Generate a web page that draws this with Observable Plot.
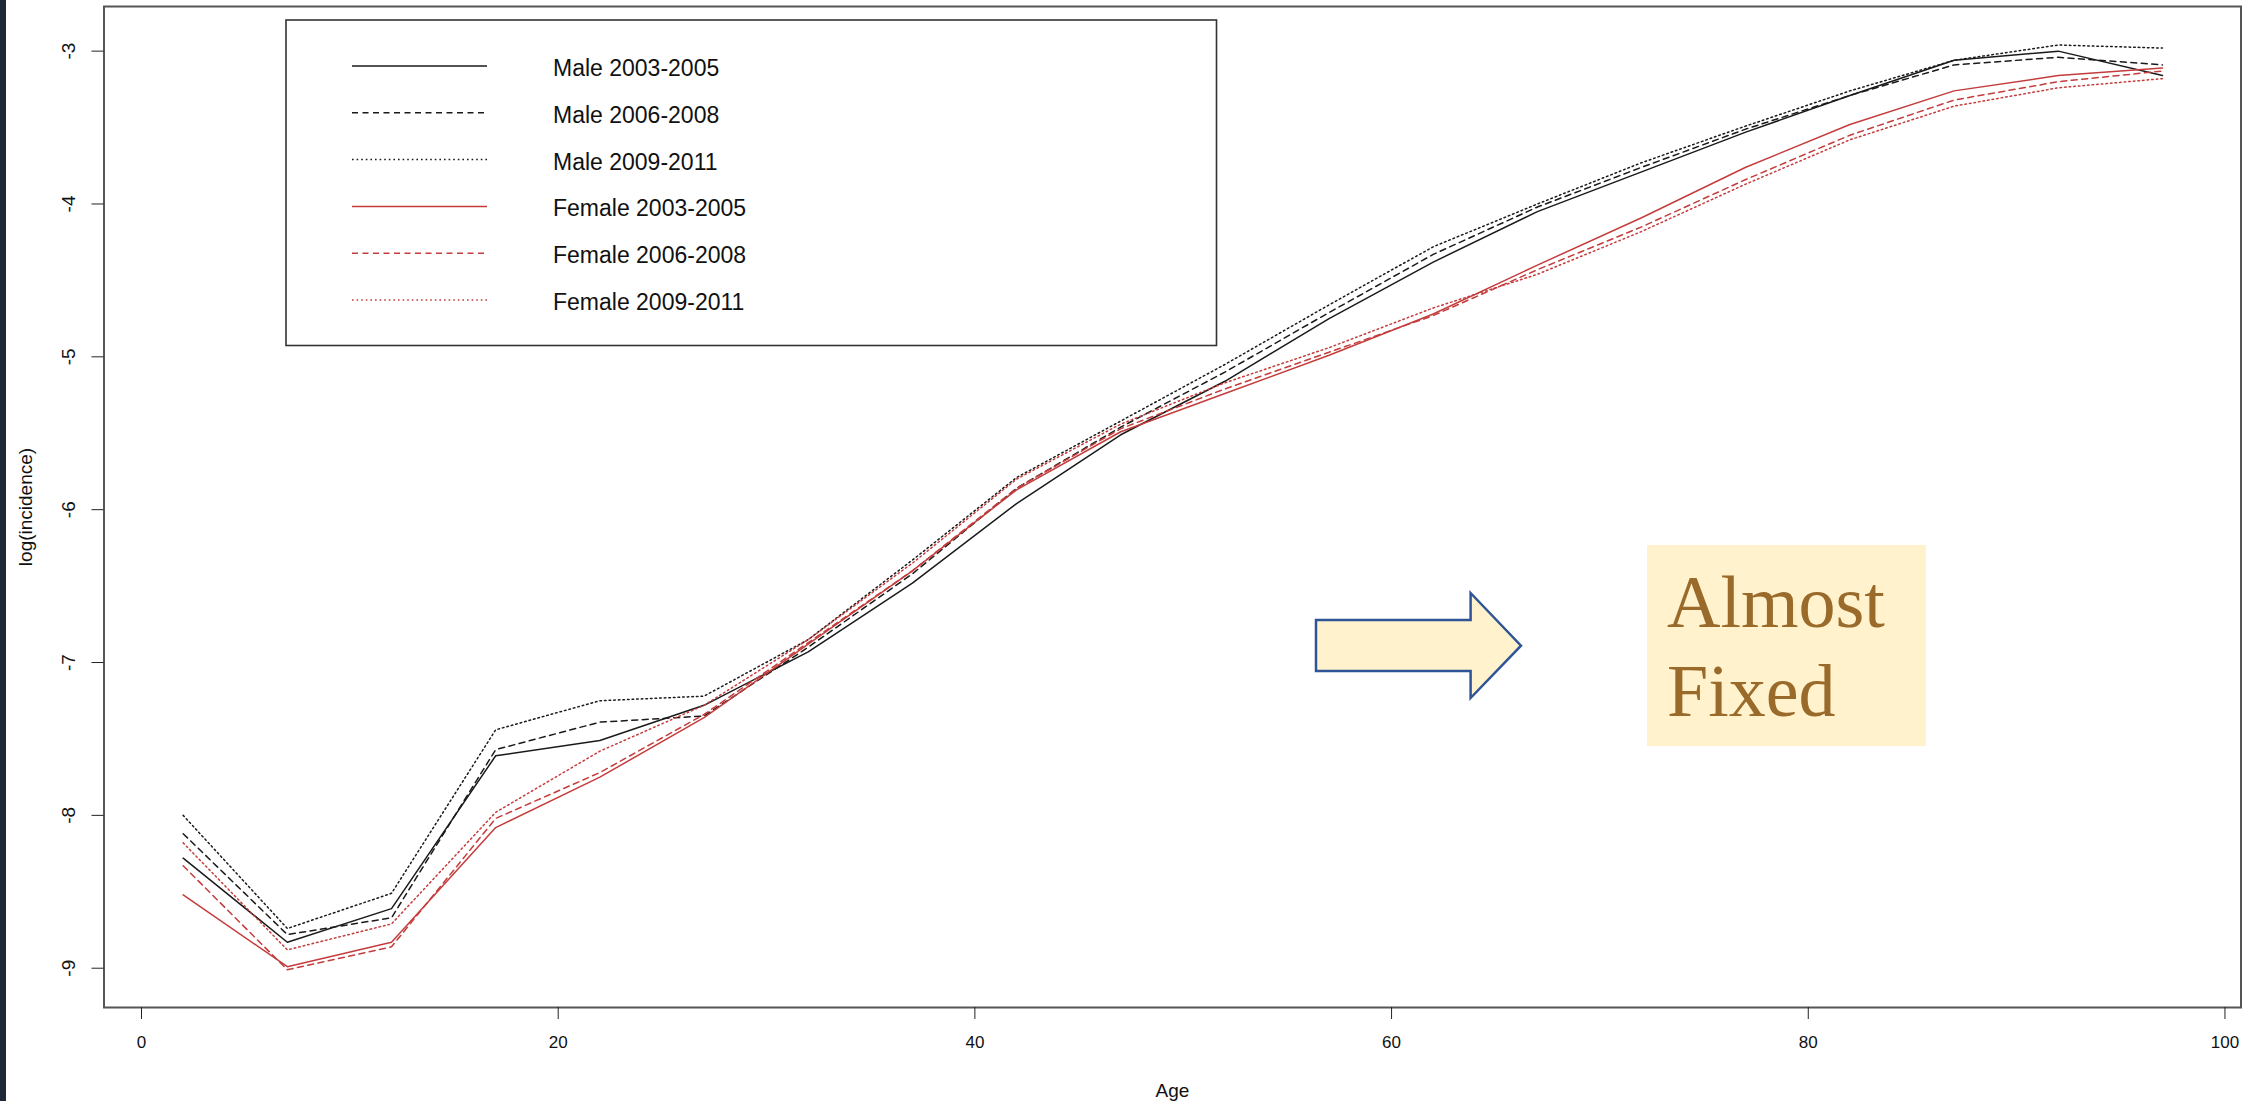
<!DOCTYPE html>
<html>
<head>
<meta charset="utf-8">
<script src="https://cdn.jsdelivr.net/npm/d3@7"></script>
<script src="https://cdn.jsdelivr.net/npm/@observablehq/plot@0.6"></script>
<style>
  html, body { margin: 0; padding: 0; background: #fff; }
  #wrap { position: relative; width: 2257px; height: 1101px; overflow: hidden; background: #fff; }
  #strip { position: absolute; left: 0; top: 0; width: 6px; height: 1101px; background: #1e2839; }
  .over { position: absolute; left: 0; top: 0; pointer-events: none; }
</style>
</head>
<body>
<div id="wrap"><div id="strip"></div></div>
<script>
// ---- data ----
const ages = [2, 7, 12, 17, 22, 27, 32, 37, 42, 47, 52, 57, 62, 67, 72, 77, 82, 87, 92, 97];

const seriesNames = ["Male 2003-2005", "Male 2006-2008", "Male 2009-2011",
                     "Female 2003-2005", "Female 2006-2008", "Female 2009-2011"];

const male2003 = [-8.28, -8.83, -8.61, -7.61, -7.51, -7.28, -6.93, -6.48, -5.96, -5.51,
                  -5.16, -4.75, -4.38, -4.05, -3.79, -3.53, -3.29, -3.06, -3.00, -3.16];
const male2006 = [-8.12, -8.78, -8.67, -7.57, -7.39, -7.35, -6.90, -6.42, -5.86, -5.46,
                  -5.10, -4.71, -4.33, -4.02, -3.76, -3.51, -3.29, -3.09, -3.04, -3.09];
const male2009 = [-8.00, -8.74, -8.51, -7.44, -7.25, -7.22, -6.85, -6.33, -5.79, -5.42,
                  -5.05, -4.66, -4.28, -4.00, -3.73, -3.49, -3.26, -3.06, -2.96, -2.98];
const female2003 = [-8.52, -8.99, -8.83, -8.08, -7.75, -7.36, -6.88, -6.40, -5.87, -5.49,
                    -5.24, -4.99, -4.72, -4.40, -4.09, -3.76, -3.48, -3.26, -3.16, -3.11];
const female2006 = [-8.33, -9.01, -8.86, -8.02, -7.72, -7.34, -6.87, -6.40, -5.86, -5.47,
                    -5.21, -4.97, -4.73, -4.43, -4.15, -3.84, -3.55, -3.32, -3.20, -3.13];
const female2009 = [-8.18, -8.88, -8.71, -7.98, -7.58, -7.28, -6.85, -6.35, -5.80, -5.44,
                    -5.17, -4.94, -4.68, -4.46, -4.18, -3.87, -3.58, -3.36, -3.24, -3.18];

const xTicks = [0, 20, 40, 60, 80, 100];
const yTicks = [-9, -8, -7, -6, -5, -4, -3];

// ---- styles ----
const BLACK = "#1a1a1a";
const RED = "#c43c3c";
const DASH = "6,4.5";
const DOT = "1.6,3";
const styles = [
  {stroke: BLACK, dash: null},
  {stroke: BLACK, dash: DASH},
  {stroke: BLACK, dash: DOT},
  {stroke: RED, dash: null},
  {stroke: RED, dash: DASH},
  {stroke: RED, dash: DOT}
];
const allValues = [male2003, male2006, male2009, female2003, female2006, female2009];

const tables = allValues.map((vals, i) =>
  ages.map((a, j) => ({age: a, v: vals[j], series: seriesNames[i]})));

const FONT = "'Liberation Sans', Arial, sans-serif";

const lineMarks = tables.map((t, i) =>
  Plot.line(t, {x: "age", y: "v", stroke: styles[i].stroke, strokeWidth: 1.5,
    strokeDasharray: styles[i].dash || undefined}));

const chart = Plot.plot({
  width: 2257,
  height: 1101,
  marginLeft: 103.5,
  marginRight: 16.5,
  marginTop: 6,
  marginBottom: 94,
  style: {fontFamily: FONT, background: "transparent", color: "#111"},
  x: {domain: [-1.8, 100.77]},
  y: {domain: [-9.257, -2.708]},
  marks: [
    Plot.frame({stroke: "#555", strokeWidth: 2}),
    Plot.axisX({ticks: xTicks, tickSize: 12, tickPadding: 16, fontSize: 17,
      tickFormat: d => String(d), label: null, stroke: "#222"}),
    Plot.axisY({ticks: yTicks, tickSize: 12, tickFormat: () => "", label: null, stroke: "#222"}),
    Plot.text(yTicks, {y: d => d, text: d => String(d), frameAnchor: "left", dx: -35,
      rotate: -90, fontSize: 19, textAnchor: "middle", lineAnchor: "middle", fill: "#111"}),
    Plot.text(["Age"], {frameAnchor: "bottom", dy: 83, fontSize: 19, lineAnchor: "middle", fill: "#111"}),
    Plot.text(["log(incidence)"], {frameAnchor: "left", dx: -78, rotate: -90, fontSize: 19,
      textAnchor: "middle", lineAnchor: "middle", fill: "#111"}),
    ...lineMarks
  ]
});
chart.style.position = "absolute";
chart.style.left = "0px";
chart.style.top = "0px";
document.getElementById("wrap").appendChild(chart);

// ---- legend and annotation overlay ----
const NS = "http://www.w3.org/2000/svg";
const over = document.createElementNS(NS, "svg");
over.setAttribute("width", 2257);
over.setAttribute("height", 1101);
over.setAttribute("class", "over");
function el(name, attrs, text) {
  const e = document.createElementNS(NS, name);
  for (const k in attrs) e.setAttribute(k, attrs[k]);
  if (text != null) e.textContent = text;
  over.appendChild(e);
  return e;
}
// legend box
el("rect", {x: 286, y: 20, width: 930.5, height: 325.5, fill: "#fff", stroke: "#333", "stroke-width": 1.6});
seriesNames.forEach((name, i) => {
  const y = 66 + i * 46.8;
  const a = {x1: 352, x2: 487, y1: y, y2: y, stroke: styles[i].stroke, "stroke-width": 1.5};
  if (styles[i].dash) a["stroke-dasharray"] = styles[i].dash;
  el("line", a);
  el("text", {x: 553, y: y + 2, "font-family": FONT, "font-size": 23, fill: "#111",
    "dominant-baseline": "central"}, name);
});
// arrow
el("polygon", {points: "1316,620 1470.6,620 1470.6,593 1521,645.7 1470.6,698 1470.6,671 1316,671",
  fill: "#fff2cc", stroke: "#2f5597", "stroke-width": 2.5, "stroke-linejoin": "miter"});
// note box
el("rect", {x: 1647, y: 545, width: 279, height: 201, fill: "#fff2cc"});
el("text", {x: 1667, y: 627, "font-family": "'Liberation Serif', 'Times New Roman', serif",
  "font-size": 74, fill: "#9a6a2a"}, "Almost");
el("text", {x: 1667, y: 716, "font-family": "'Liberation Serif', 'Times New Roman', serif",
  "font-size": 74, fill: "#9a6a2a"}, "Fixed");
document.getElementById("wrap").appendChild(over);
</script>
</body>
</html>
